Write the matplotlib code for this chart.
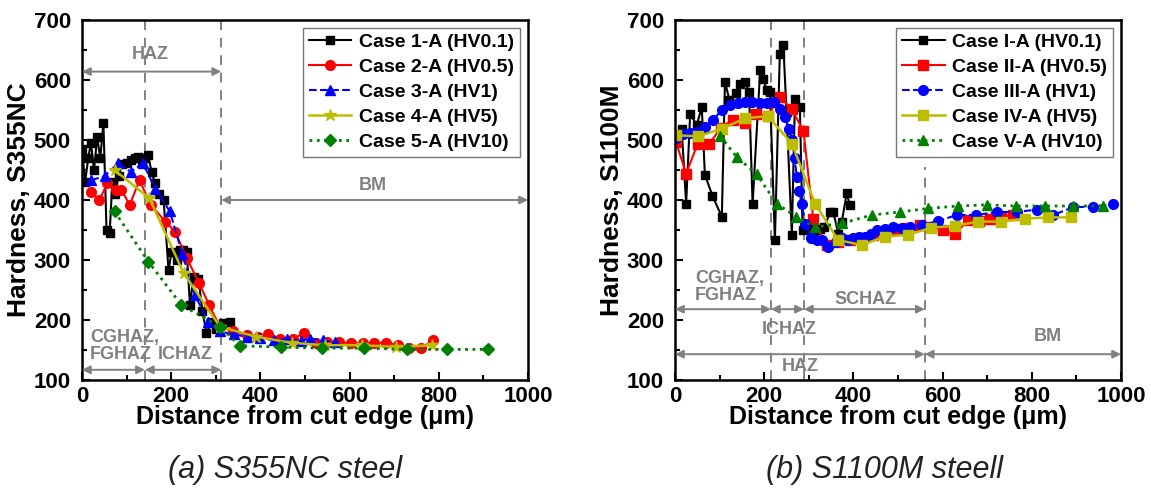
import matplotlib
matplotlib.use("Agg")
import matplotlib.pyplot as plt
from matplotlib.ticker import MultipleLocator

plt.rcParams['font.family'] = ['Liberation Sans', 'DejaVu Sans']

# ---------------- S355NC data (distance in um, hardness HV) ----------------
c1_d = [0, 7, 14, 20, 27, 34, 41, 48, 55, 62, 68, 75, 82, 90, 100, 110, 118, 126, 134, 141,
        148, 156, 164, 172, 183, 194, 201, 212, 220, 227, 235, 242, 250, 261, 270, 279, 290,
        300, 316, 332]
c1_h = [485, 430, 470, 495, 450, 505, 470, 528, 350, 345, 430, 410, 440, 460, 462, 466, 470,
        472, 465, 470, 475, 447, 428, 410, 400, 283, 314, 300, 317, 317, 314, 225, 272, 269,
        215, 178, 197, 185, 195, 197]

c2_d = [21, 39, 57, 77, 88, 107, 129, 154, 187, 209, 235, 263, 285, 309, 339, 369, 394, 418,
        444, 474, 498, 525, 550, 576, 603, 629, 655, 682, 708, 734, 760, 786]
c2_h = [414, 400, 428, 417, 417, 392, 433, 392, 364, 347, 303, 261, 225, 189, 181, 175, 172,
        177, 168, 169, 178, 161, 164, 164, 161, 161, 162, 162, 158, 153, 153, 166]

c3_d = [21, 51, 81, 109, 137, 164, 197, 225, 253, 283, 309, 340, 370, 400, 430, 460, 490, 511,
        540, 567]
c3_h = [433, 440, 461, 447, 461, 419, 381, 310, 242, 197, 181, 176, 172, 170, 166, 168, 165,
        169, 166, 164]

c4_d = [73, 151, 228, 309, 391, 470, 545, 627, 705, 784]
c4_h = [450, 403, 278, 189, 172, 162, 158, 158, 155, 158]

c5_d = [73, 149, 223, 309, 354, 447, 537, 632, 728, 818, 911]
c5_h = [381, 297, 225, 189, 157, 155, 153, 153, 151, 151, 151]

left_labels = ['Case 1-A (HV0.1)', 'Case 2-A (HV0.5)', 'Case 3-A (HV1)',
               'Case 4-A (HV5)', 'Case 5-A (HV10)']

# ---------------- S1100M data ----------------
cI_d = [2, 15, 25, 34, 49, 60, 67, 84, 105, 112, 122, 137, 146, 157, 166, 174, 191, 198, 206,
        213, 224, 235, 243, 250, 262, 269, 280, 286, 295, 305, 315, 325, 335, 348, 355, 366,
        374, 385, 392]
cI_h = [507, 518, 394, 543, 525, 555, 442, 407, 372, 597, 567, 578, 594, 597, 580, 394, 617,
        601, 583, 580, 333, 644, 658, 547, 342, 569, 555, 350, 355, 352, 350, 352, 355, 380,
        380, 344, 364, 411, 392]

cII_d = [2, 25, 51, 77, 103, 129, 157, 182, 208, 235, 262, 288, 310, 340, 366, 392, 419, 445,
         471, 497, 523, 549, 575, 601, 628, 657, 681, 706, 732, 758]
cII_h = [497, 444, 494, 494, 520, 534, 529, 544, 540, 572, 551, 515, 369, 325, 330, 333, 336,
         342, 347, 351, 353, 358, 355, 350, 343, 367, 365, 369, 372, 375]

cIII_d = [2, 18, 34, 50, 67, 86, 105, 123, 142, 157, 172, 191, 206, 221, 235, 247, 255, 262,
          268, 273, 278, 284, 292, 306, 318, 329, 344, 360, 374, 387, 400, 413, 426, 439, 452,
          470, 489, 508, 527, 553, 590, 632, 676, 721, 766, 811, 848, 893, 938, 983]
cIII_h = [504, 510, 512, 514, 522, 534, 550, 558, 561, 564, 564, 561, 562, 563, 552, 539, 519,
          500, 470, 439, 415, 394, 360, 336, 334, 333, 322, 330, 336, 334, 336, 338, 339, 344,
          350, 352, 355, 354, 355, 358, 365, 375, 375, 380, 380, 384, 375, 388, 389, 393]

cIV_d = [2, 52, 105, 157, 208, 262, 314, 366, 419, 471, 523, 575, 628, 680, 732, 785, 837, 889]
cIV_h = [508, 506, 519, 536, 540, 494, 394, 333, 325, 339, 342, 354, 357, 364, 364, 369, 371,
         371]

cV_d = [101, 138, 183, 228, 272, 314, 374, 441, 504, 568, 635, 699, 765, 830, 893, 960]
cV_h = [507, 472, 443, 394, 372, 355, 361, 375, 380, 386, 390, 392, 390, 390, 390, 390]

right_labels = ['Case I-A (HV0.1)', 'Case II-A (HV0.5)', 'Case III-A (HV1)',
                'Case IV-A (HV5)', 'Case V-A (HV10)']

OLIVE = '#BDBD00'
GREEN = '#008000'
GRAY = '#808080'
DASH = (0, (5, 4))

W, H = 1151, 495
fig = plt.figure(figsize=(W / 100, H / 100), dpi=100)
axL = fig.add_axes([82 / W, 115 / H, 446 / W, 360 / H])
axR = fig.add_axes([675 / W, 115 / H, 446 / W, 360 / H])


def style(ax, ylabel):
    ax.set_xlim(0, 1000)
    ax.set_ylim(100, 700)
    ax.xaxis.set_major_locator(MultipleLocator(200))
    ax.xaxis.set_minor_locator(MultipleLocator(100))
    ax.yaxis.set_major_locator(MultipleLocator(100))
    ax.yaxis.set_minor_locator(MultipleLocator(50))
    ax.tick_params(which='both', direction='in', top=False, right=False, width=1.5)
    ax.tick_params(which='major', length=6, labelsize=16)
    ax.tick_params(axis='y', which='major', pad=8)
    ax.tick_params(axis='x', which='major', pad=4)
    ax.tick_params(which='minor', length=3.5)
    for lab in ax.get_xticklabels() + ax.get_yticklabels():
        lab.set_fontweight('bold')
    for sp in ax.spines.values():
        sp.set_linewidth(1.8)
    ax.set_xlabel('Distance from cut edge (\u03bcm)', fontsize=18, fontweight='bold', labelpad=-1)
    ax.set_ylabel(ylabel, fontsize=19, fontweight='bold', labelpad=2)


def harrow(ax, x0, x1, y):
    ax.annotate('', xy=(x1, y), xytext=(x0, y), annotation_clip=False,
                arrowprops=dict(arrowstyle='<|-|>', color=GRAY, lw=1.4,
                                mutation_scale=12, shrinkA=0, shrinkB=0))


def note(ax, x, y, s, ha='center'):
    ax.text(x, y, s, color=GRAY, fontsize=13, fontweight='bold', ha=ha, va='center',
            linespacing=1.0)


def legend(ax, handles, labels):
    leg = ax.legend(handles, labels, loc='upper right', prop={'size': 14, 'weight': 'bold'},
                    frameon=True, fancybox=False, edgecolor='#777777', framealpha=1,
                    borderaxespad=0.4, handlelength=2.2, labelspacing=0.38,
                    handletextpad=0.4, borderpad=0.3)
    leg.get_frame().set_linewidth(1.0)


# ---------------- left panel ----------------
axL.axvline(141, color=GRAY, ls=DASH, lw=1.4, zorder=1)
axL.axvline(312, color=GRAY, ls=DASH, lw=1.4, zorder=1)
hL = []
hL += axL.plot(c1_d, c1_h, color='black', marker='s', ms=5.5, lw=1.5, ls='-')
hL += axL.plot(c2_d, c2_h, color='red', marker='o', ms=7, lw=1.5, ls='-')
hL += axL.plot(c3_d, c3_h, color='blue', marker='^', ms=7, lw=1.5, ls='--')
hL += axL.plot(c4_d, c4_h, color=OLIVE, marker='*', ms=9, lw=1.8, ls='-')
hL += axL.plot(c5_d, c5_h, color=GREEN, marker='D', ms=6, lw=2, ls=':')
style(axL, 'Hardness, S355NC')
legend(axL, hL, left_labels)

harrow(axL, 0, 312, 614)
note(axL, 152, 642, 'HAZ')
harrow(axL, 312, 1000, 400)
note(axL, 653, 425, 'BM')
harrow(axL, 0, 141, 117)
harrow(axL, 141, 312, 117)
note(axL, 18, 157, 'CGHAZ,\nFGHAZ', ha='left')
note(axL, 231, 142, 'ICHAZ')

# ---------------- right panel ----------------
axR.axvline(215, color=GRAY, ls=DASH, lw=1.4, zorder=1)
axR.axvline(289, color=GRAY, ls=DASH, lw=1.4, zorder=1)
axR.axvline(560, ymin=0, ymax=(455 - 100) / 600, color=GRAY, ls=DASH, lw=1.4, zorder=1)
hR = []
hR += axR.plot(cI_d, cI_h, color='black', marker='s', ms=6, lw=1.5, ls='-')
hR += axR.plot(cII_d, cII_h, color='red', marker='s', ms=6.5, lw=1.5, ls='-')
hR += axR.plot(cIII_d, cIII_h, color='blue', marker='o', ms=7, lw=1.5, ls='--')
hR += axR.plot(cIV_d, cIV_h, color=OLIVE, marker='s', ms=7.5, lw=1.8, ls='-')
hR += axR.plot(cV_d, cV_h, color=GREEN, marker='^', ms=7.5, lw=2, ls=':')
style(axR, 'Hardness, S1100M')
legend(axR, hR, right_labels)

harrow(axR, 0, 215, 218)
harrow(axR, 215, 289, 218)
harrow(axR, 289, 560, 218)
note(axR, 45, 255, 'CGHAZ,\nFGHAZ', ha='left')
note(axR, 428, 235, 'SCHAZ')
note(axR, 256, 185, 'ICHAZ')
harrow(axR, 0, 560, 143)
harrow(axR, 560, 1000, 143)
note(axR, 280, 122, 'HAZ')
note(axR, 836, 172, 'BM')

# ---------------- captions ----------------
fig.text(285 / W, 1 - 470 / H, '(a) S355NC steel', fontsize=22, style='italic',
         ha='center', va='center', color='#222222')
fig.text(885 / W, 1 - 470 / H, '(b) S1100M steell', fontsize=22, style='italic',
         ha='center', va='center', color='#222222')

fig.savefig('out.png', dpi=100)
